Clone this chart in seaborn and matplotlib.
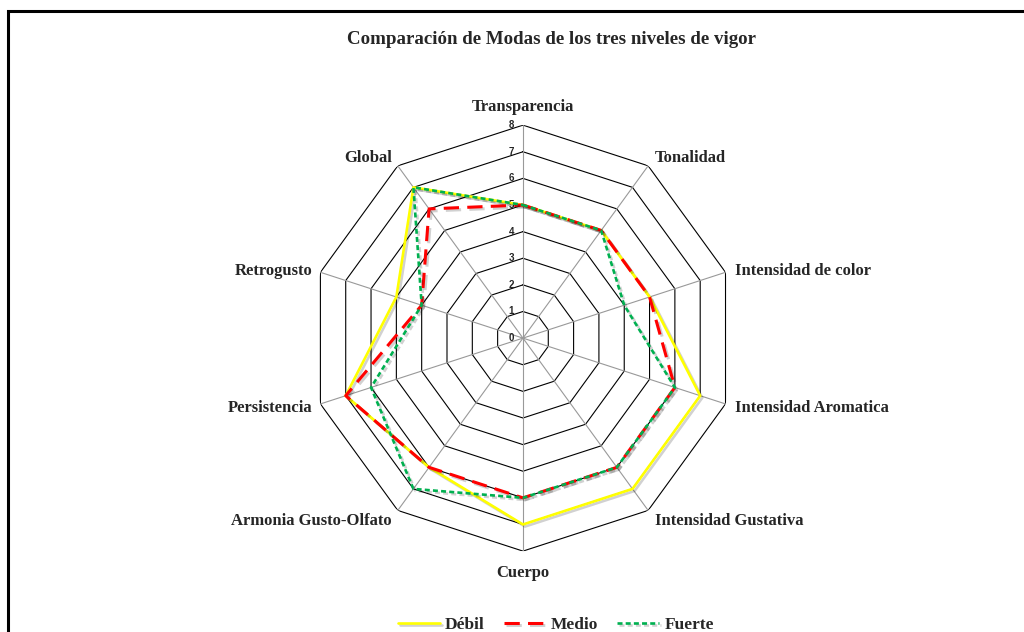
import numpy as np
import pandas as pd
import matplotlib
matplotlib.use("Agg")
import matplotlib.pyplot as plt
import matplotlib.patheffects as pe
from matplotlib.patches import Rectangle
import seaborn as sns

# Datos (modas por atributo)
atributos = ['Transparencia', 'Tonalidad', 'Intensidad de color', 'Intensidad Aromatica',
             'Intensidad Gustativa', 'Cuerpo', 'Armonia Gusto-Olfato', 'Persistencia',
             'Retrogusto', 'Global']
debil = [5, 5, 5, 7, 7, 7, 6, 7, 5, 7]
medio = [5, 5, 5, 6, 6, 6, 6, 7, 4, 6]
fuerte = [5, 5, 4, 6, 6, 6, 7, 6, 4, 7]
niveles = [0, 1, 2, 3, 4, 5, 6, 7, 8]

sns.set_style("white")
plt.rcParams['font.family'] = ['Liberation Serif', 'DejaVu Serif']

n = len(atributos)
ang = np.linspace(0, 2 * np.pi, n, endpoint=False)
ang_c = np.append(ang, 2 * np.pi)

fig = plt.figure(figsize=(10.24, 6.32), dpi=100)
ax = fig.add_axes([0.3027, 0.128, 0.416, 0.674], projection='polar')
ax.set_theta_zero_location('N')
ax.set_theta_direction(-1)
ax.set_ylim(0, 8)
ax.grid(False)
ax.spines['polar'].set_visible(False)
ax.set_xticks([])
ax.set_yticks([])
ax.set_facecolor('white')

# rejilla poligonal
for lv in niveles[1:]:
    ax.plot(ang_c, [lv] * (n + 1), color='black', lw=0.8, zorder=1)
for a in ang:
    ax.plot([a, a], [0, 8], color='#999999', lw=0.8, zorder=1)

# etiquetas del eje radial
for lv in niveles:
    ax.annotate(str(lv), xy=(0, lv), xytext=(-9, 0), textcoords='offset pixels',
                ha='right', va='center', fontsize=7, fontweight='bold',
                family='Liberation Sans')

# etiquetas de categorias
offs = [(0, 18, 'center'), (7, 8, 'left'), (9, 1, 'left'), (9, -4, 'left'),
        (7, -11, 'left'), (0, -22, 'center'), (-6, -11, 'right'), (-8, -4, 'right'),
        (-8, 1, 'right'), (-6, 8, 'right')]
for a, lab, (dx, dy, ha) in zip(ang, atributos, offs):
    ax.annotate(lab, xy=(a, 8), xytext=(dx, dy), textcoords='offset pixels',
                ha=ha, va='center', fontsize=12, fontweight='bold')

sombra = [pe.SimpleLineShadow(offset=(1.5, -1.5), alpha=0.18, rho=0.6), pe.Normal()]
series = [('Débil', debil, '#FFFF00', '-', 1.9, None),
          ('Medio', medio, '#FF0000', '--', 2.2, (5, 2.7)),
          ('Fuerte', fuerte, '#00B050', '--', 1.9, (1.9, 1.2))]
for nombre, vals, col, ls, lw, dash in series:
    df = pd.DataFrame({'ang': ang_c, 'val': vals + vals[:1]})
    kw = dict(dashes=dash) if dash else {}
    sns.lineplot(data=df, x='ang', y='val', ax=ax, sort=False, estimator=None,
                 color=col, lw=lw, label=nombre, path_effects=sombra, zorder=3, **kw)
ax.set_xlabel('')
ax.set_ylabel('')
ax.set_ylim(0, 8)
h, l = ax.get_legend_handles_labels()
ax.get_legend().remove()

fig.legend(h, l, loc='lower center', bbox_to_anchor=(0.543, -0.026), ncol=3,
           frameon=False, handlelength=2.4, columnspacing=1.1, handletextpad=0.3,
           prop={'weight': 'bold', 'size': 12.5})

fig.text(0.539, 0.937, 'Comparación de Modas de los tres niveles de vigor',
         ha='center', va='center', fontsize=13.6, fontweight='bold')

fig.add_artist(Rectangle((7.5 / 1024, -0.1), 1.2, 1.1 - 11 / 632,
                         transform=fig.transFigure, fill=False, lw=2.2, color='black'))

fig.savefig('out.png', dpi=100)
